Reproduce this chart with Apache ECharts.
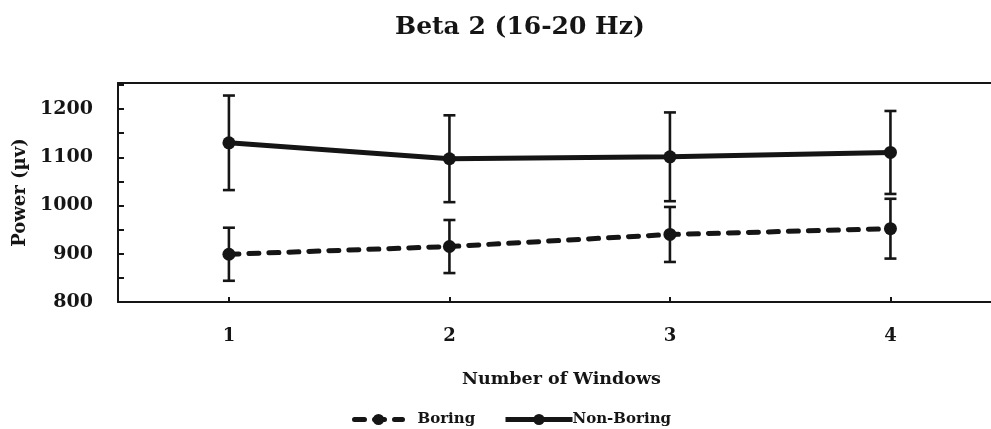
<!DOCTYPE html>
<html>
<head>
<meta charset="utf-8">
<script src="https://cdn.jsdelivr.net/npm/echarts@6/dist/echarts.min.js"></script>
<style>html,body{margin:0;padding:0;background:#fff;}#c{width:991px;height:429px;}</style>
</head>
<body>
<div id="c"></div>
<script>
const categories = ['1', '2', '3', '4'];
const xPositions = [1, 2, 3, 4];
const boringMean = [899, 915, 940, 952];
const boringErr = [55, 55, 57, 62];
const nonBoringMean = [1130, 1097, 1101, 1110];
const nonBoringErr = [98, 90, 92, 86];
const yTickLabels = [800, 900, 1000, 1100, 1200];

const INK = '#151515';
const FONT = 'DejaVu Serif';

function lineData(mean) {
  return mean.map((m, i) => [xPositions[i], m]);
}
function errData(mean, err) {
  return mean.map((m, i) => [xPositions[i], m - err[i], m + err[i]]);
}
function errRender(params, api) {
  const x = api.value(0);
  const lo = api.coord([x, api.value(1)]);
  const hi = api.coord([x, api.value(2)]);
  const w = 6;
  const st = { stroke: INK, lineWidth: 2.6 };
  return {
    type: 'group',
    children: [
      { type: 'line', shape: { x1: lo[0], y1: lo[1], x2: hi[0], y2: hi[1] }, style: st },
      { type: 'line', shape: { x1: lo[0] - w, y1: lo[1], x2: lo[0] + w, y2: lo[1] }, style: st },
      { type: 'line', shape: { x1: hi[0] - w, y1: hi[1], x2: hi[0] + w, y2: hi[1] }, style: st }
    ]
  };
}

const chart = echarts.init(document.getElementById('c'), null, { renderer: 'canvas' });
chart.setOption({
  animation: false,
  backgroundColor: '#fff',
  title: {
    text: 'Beta 2 (16-20 Hz)',
    left: 390, top: 10,
    textStyle: { fontFamily: FONT, fontWeight: 'bold', fontSize: 25, color: INK }
  },
  legend: [
    {
      data: ['Boring'], left: 352, top: 412, padding: 0, itemWidth: 48, itemHeight: 14,
      lineStyle: { width: 5 },
      textStyle: { fontFamily: FONT, fontWeight: 'bold', fontSize: 15, color: INK, padding: [0, 0, 0, 10] }
    },
    {
      data: ['Non-Boring'], left: 503, top: 412, padding: 0, itemWidth: 67, itemHeight: 14,
      lineStyle: { width: 5 },
      textStyle: { fontFamily: FONT, fontWeight: 'bold', fontSize: 15, color: INK, padding: [0, 0, 0, -5] }
    }
  ],
  grid: { left: 118, right: 0, top: 83, bottom: 127 },
  xAxis: [
    {
      type: 'value', min: 0.497, max: 4.456,
      name: 'Number of Windows', nameLocation: 'middle', nameGap: 68,
      nameTextStyle: { fontFamily: FONT, fontWeight: 'bold', fontSize: 17.5, color: INK, padding: [0, 0, 0, 14] },
      axisLine: { show: true, onZero: false, lineStyle: { color: INK, width: 2 } },
      axisTick: { show: true, inside: true, length: 5, customValues: xPositions, lineStyle: { color: INK, width: 2 } },
      axisLabel: {
        fontFamily: FONT, fontWeight: 'bold', fontSize: 18, color: INK, margin: 25,
        customValues: xPositions,
        formatter: v => categories[xPositions.indexOf(v)] || ''
      },
      splitLine: { show: false }
    },
    {
      type: 'value', position: 'top', min: 0.497, max: 4.456,
      axisLine: { show: true, onZero: false, lineStyle: { color: INK, width: 2 } },
      axisTick: { show: false }, axisLabel: { show: false }, splitLine: { show: false }
    }
  ],
  yAxis: {
    type: 'value', min: 800, max: 1254, interval: 50,
    name: 'Power (\u00b5v)', nameLocation: 'middle', nameGap: 83,
    nameTextStyle: { fontFamily: FONT, fontWeight: 'bold', fontSize: 18, color: INK },
    axisLine: { show: true, lineStyle: { color: INK, width: 2 } },
    axisTick: { show: true, inside: true, length: 6, lineStyle: { color: INK, width: 2 } },
    axisLabel: {
      fontFamily: FONT, fontWeight: 'bold', fontSize: 19, color: INK, margin: 25,
      showMaxLabel: false,
      formatter: v => (yTickLabels.indexOf(v) >= 0 ? String(v) : '')
    },
    splitLine: { show: false }
  },
  series: [
    {
      name: 'Boring', type: 'line', data: lineData(boringMean),
      symbol: 'circle', symbolSize: 13, color: INK,
      lineStyle: { color: INK, width: 5, type: [10, 10], cap: 'round' },
      itemStyle: { color: INK }, z: 3
    },
    {
      name: 'Non-Boring', type: 'line', data: lineData(nonBoringMean),
      symbol: 'circle', symbolSize: 13, color: INK,
      lineStyle: { color: INK, width: 5 },
      itemStyle: { color: INK }, z: 3
    },
    {
      type: 'custom', renderItem: errRender, data: errData(boringMean, boringErr),
      encode: { x: 0, y: [1, 2] }, z: 2, silent: true
    },
    {
      type: 'custom', renderItem: errRender, data: errData(nonBoringMean, nonBoringErr),
      encode: { x: 0, y: [1, 2] }, z: 2, silent: true
    }
  ]
});
</script>
</body>
</html>
